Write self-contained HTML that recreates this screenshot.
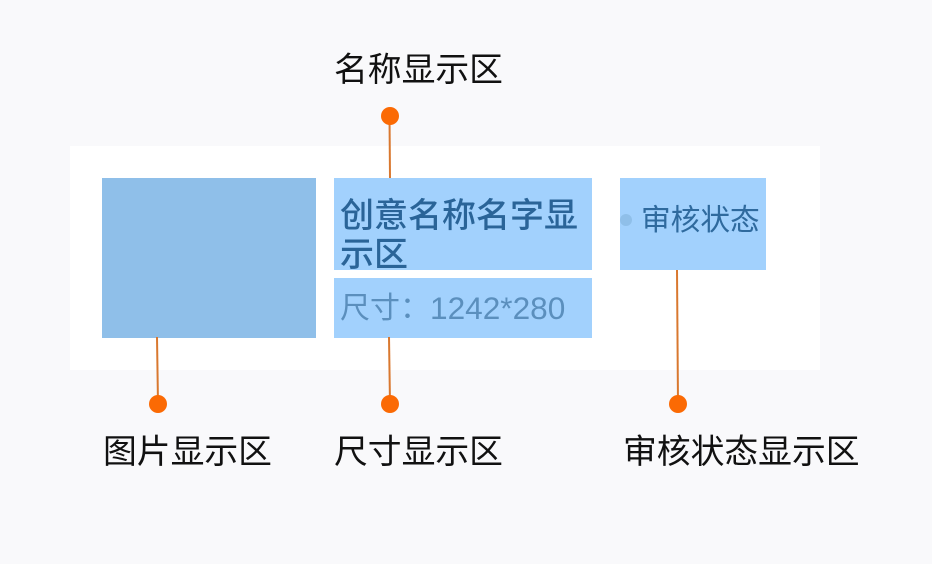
<!DOCTYPE html>
<html><head><meta charset="utf-8"><style>
html,body{margin:0;padding:0}
body{width:932px;height:564px;background:#f9f9fb;position:relative;overflow:hidden;font-family:"Liberation Sans","Noto Sans CJK SC",sans-serif}
div{position:absolute;white-space:nowrap}
.l{font-size:33.8px;line-height:40px;color:#111;font-weight:400}
svg{position:absolute;left:0;top:0}
</style></head><body>
<div style="left:70px;top:146px;width:750px;height:224px;background:#fff"></div>
<div style="left:102px;top:178px;width:214px;height:160px;background:#8fbfe9"></div>
<div style="left:334px;top:178px;width:258px;height:92px;background:#a2d1fd"></div>
<div style="left:334px;top:278px;width:258px;height:60px;background:#a2d1fd"></div>
<div style="left:620px;top:178px;width:146px;height:92px;background:#a2d1fd"></div>
<div style="left:340px;top:197px;font-size:34px;line-height:39px;font-weight:500;color:#2a6498">创意名称名字显<br>示区</div>
<div style="left:340px;top:289px;font-size:30px;line-height:40px;color:#5b8fbd">尺寸：<span style="position:absolute;left:90px;top:-1px;font-size:31.6px">1242*280</span></div>
<div style="left:620px;top:214px;width:12px;height:12px;border-radius:50%;background:#8fbfe9"></div>
<div style="left:641px;top:201px;font-size:29.7px;line-height:40px;color:#2f6a9e">审核状态</div>
<svg width="932" height="564">
<g stroke="#d9782f" stroke-width="2" fill="none">
<line x1="389.500" y1="116" x2="390" y2="178"/>
<line x1="157" y1="337" x2="158" y2="404"/>
<line x1="389" y1="337" x2="390" y2="404"/>
<line x1="677" y1="270" x2="678" y2="404"/>
</g>
<g fill="#fb6a04">
<circle cx="390" cy="116" r="9"/>
<circle cx="158" cy="404" r="9"/>
<circle cx="390" cy="404" r="9"/>
<circle cx="678" cy="404" r="9"/>
</g>
</svg>
<div class="l" style="left:334px;top:50px">名称显示区</div>
<div class="l" style="left:103px;top:432px">图片显示区</div>
<div class="l" style="left:334px;top:432px">尺寸显示区</div>
<div class="l" style="left:623px;top:432px">审核状态显示区</div>
</body></html>
